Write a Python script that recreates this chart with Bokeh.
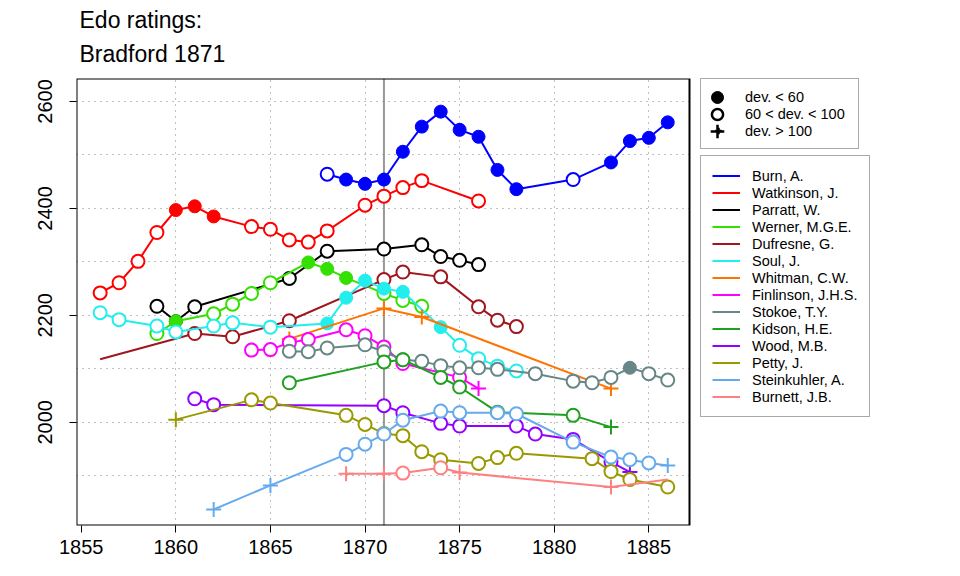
from bokeh.plotting import figure
from bokeh.models import (Range1d, FixedTicker, Span, Legend, LegendItem, Title,
                          ColumnDataSource, BoxAnnotation)
from bokeh.embed import file_html
from bokeh.resources import INLINE

# ---------------- data ----------------
players = ["Burn, A.", "Watkinson, J.", "Parratt, W.", "Werner, M.G.E.", "Dufresne, G.",
           "Soul, J.", "Whitman, C.W.", "Finlinson, J.H.S.", "Stokoe, T.Y.", "Kidson, H.E.",
           "Wood, M.B.", "Petty, J.", "Steinkuhler, A.", "Burnett, J.B."]
colors = ["#0000ff", "#ff0000", "#000000", "#33e000", "#a0161e", "#22eeee", "#ff7400",
          "#ff00ff", "#678686", "#1fa01f", "#9400ff", "#999900", "#66aaee", "#ff8080"]

# dev codes: f = dev<60 (filled), o = 60<dev<100 (open), p = dev>100 (plus), n = no marker
burn_years = [1868, 1869, 1870, 1871, 1872, 1873, 1874, 1875, 1876, 1877, 1878, 1881, 1883, 1884, 1885, 1886]
burn_ratings = [2464, 2454, 2446, 2454, 2506, 2553, 2581, 2547, 2534, 2472, 2436, 2454, 2486, 2526, 2532, 2561]
burn_dev = ["o", "f", "f", "f", "f", "f", "f", "f", "f", "f", "f", "o", "f", "f", "f", "f"]

watkinson_years = [1856, 1857, 1858, 1859, 1860, 1861, 1862, 1864, 1865, 1866, 1867, 1868, 1870, 1871, 1872, 1873, 1876]
watkinson_ratings = [2242, 2261, 2301, 2355, 2397, 2404, 2385, 2366, 2361, 2341, 2337, 2358, 2406, 2423, 2439, 2452, 2414]
watkinson_dev = ["o", "o", "o", "o", "f", "f", "f", "o", "o", "o", "o", "o", "o", "o", "o", "o", "o"]

parratt_years = [1859, 1860, 1861, 1866, 1868, 1871, 1873, 1874, 1875, 1876]
parratt_ratings = [2217, 2189, 2216, 2269, 2320, 2324, 2332, 2310, 2303, 2295]
parratt_dev = ["o", "f", "o", "o", "o", "o", "o", "o", "o", "o"]

werner_years = [1859, 1860, 1862, 1863, 1864, 1865, 1867, 1868, 1869, 1871, 1872, 1873]
werner_ratings = [2166, 2189, 2203, 2221, 2241, 2261, 2299, 2287, 2270, 2241, 2228, 2217]
werner_dev = ["o", "f", "o", "o", "o", "o", "f", "f", "f", "o", "o", "o"]

dufresne_years = [1856, 1861, 1863, 1866, 1871, 1872, 1874, 1876, 1877, 1878]
dufresne_ratings = [2118, 2166, 2160, 2190, 2267, 2281, 2272, 2216, 2191, 2179]
dufresne_dev = ["n", "o", "o", "o", "o", "o", "o", "o", "o", "o"]

soul_years = [1856, 1857, 1859, 1860, 1862, 1863, 1865, 1868, 1869, 1870, 1871, 1872, 1874, 1875, 1876, 1877, 1878]
soul_ratings = [2205, 2192, 2180, 2169, 2180, 2186, 2178, 2185, 2233, 2265, 2250, 2244, 2178, 2144, 2119, 2105, 2096]
soul_dev = ["o", "o", "o", "o", "o", "o", "o", "f", "f", "f", "f", "f", "f", "o", "o", "o", "o"]

whitman_years = [1866, 1871, 1873, 1883]
whitman_ratings = [2156, 2213, 2197, 2063]
whitman_dev = ["p", "p", "p", "p"]

finlinson_years = [1864, 1865, 1866, 1867, 1869, 1870, 1871, 1872, 1875, 1876]
finlinson_ratings = [2135, 2136, 2149, 2155, 2173, 2162, 2141, 2110, 2084, 2063]
finlinson_dev = ["o", "o", "o", "o", "o", "o", "o", "o", "o", "p"]

stokoe_years = [1866, 1867, 1868, 1870, 1871, 1872, 1873, 1874, 1875, 1876, 1877, 1879, 1881, 1882, 1883, 1884, 1885, 1886]
stokoe_ratings = [2133, 2132, 2139, 2145, 2132, 2117, 2114, 2106, 2102, 2102, 2099, 2091, 2077, 2074, 2084, 2102, 2091, 2079]
stokoe_dev = ["o", "o", "o", "o", "o", "o", "o", "o", "o", "o", "o", "o", "o", "o", "o", "f", "o", "o"]

kidson_years = [1866, 1871, 1872, 1874, 1875, 1877, 1881, 1883]
kidson_ratings = [2074, 2113, 2117, 2084, 2066, 2019, 2013, 1991]
kidson_dev = ["o", "o", "o", "o", "o", "o", "o", "p"]

wood_years = [1861, 1862, 1871, 1872, 1874, 1875, 1878, 1879, 1881, 1883, 1884]
wood_ratings = [2044, 2033, 2031, 2018, 1998, 1993, 1993, 1978, 1968, 1926, 1907]
wood_dev = ["o", "o", "o", "o", "o", "o", "o", "o", "o", "o", "p"]

petty_years = [1860, 1864, 1865, 1869, 1870, 1871, 1872, 1873, 1874, 1876, 1877, 1878, 1882, 1883, 1884, 1886]
petty_ratings = [2005, 2042, 2036, 2013, 1996, 1979, 1975, 1945, 1930, 1923, 1934, 1942, 1932, 1908, 1893, 1879]
petty_dev = ["p", "o", "o", "o", "o", "o", "o", "o", "o", "o", "o", "o", "o", "o", "o", "o"]

steinkuhler_years = [1862, 1865, 1869, 1870, 1871, 1872, 1874, 1875, 1877, 1878, 1881, 1883, 1884, 1885, 1886]
steinkuhler_ratings = [1837, 1882, 1940, 1959, 1978, 2004, 2021, 2018, 2018, 2016, 1963, 1935, 1930, 1924, 1919]
steinkuhler_dev = ["p", "p", "o", "o", "o", "o", "o", "o", "o", "o", "o", "o", "o", "o", "p"]

burnett_years = [1869, 1871, 1872, 1874, 1875, 1883, 1886]
burnett_ratings = [1904, 1904, 1905, 1915, 1906, 1879, 1893]
burnett_dev = ["p", "p", "o", "o", "p", "p", "n"]

series_years = [burn_years, watkinson_years, parratt_years, werner_years, dufresne_years,
                soul_years, whitman_years, finlinson_years, stokoe_years, kidson_years,
                wood_years, petty_years, steinkuhler_years, burnett_years]
series_ratings = [burn_ratings, watkinson_ratings, parratt_ratings, werner_ratings, dufresne_ratings,
                  soul_ratings, whitman_ratings, finlinson_ratings, stokoe_ratings, kidson_ratings,
                  wood_ratings, petty_ratings, steinkuhler_ratings, burnett_ratings]
series_dev = [burn_dev, watkinson_dev, parratt_dev, werner_dev, dufresne_dev,
              soul_dev, whitman_dev, finlinson_dev, stokoe_dev, kidson_dev,
              wood_dev, petty_dev, steinkuhler_dev, burnett_dev]

x_ticks = [1855, 1860, 1865, 1870, 1875, 1880, 1885]
x_grid = [1860, 1865, 1870, 1875, 1880, 1885]
y_ticks = [2000, 2200, 2400, 2600]
y_grid = [1900, 2000, 2100, 2200, 2300, 2400, 2500, 2600]
event_year = 1871
dev_labels = ["dev. < 60", "60 < dev. < 100", "dev. > 100"]

FONT = "Liberation Sans"

# plotting-area limits (the framed box) and the extended frame that also holds the legends
X0, X1 = 1854.75, 1887.15
Y0, Y1 = 1807, 2643
PX_PER_YEAR = 613 / (X1 - X0)
FRAME_W = 794
X_EXT = X0 + FRAME_W / PX_PER_YEAR

p = figure(frame_width=FRAME_W, frame_height=447, output_backend="svg", toolbar_location=None,
           x_range=Range1d(X0, X_EXT), y_range=Range1d(Y0, Y1),
           min_border_left=76, min_border_right=80, min_border_top=78, min_border_bottom=45)
p.title = None
p.outline_line_color = None
p.background_fill_color = "white"
p.border_fill_color = "white"

# axes
for ax in (p.xaxis[0], p.yaxis[0]):
    ax.axis_line_color = None
    ax.major_tick_line_color = "black"
    ax.major_tick_line_width = 1
    ax.major_tick_out = 7
    ax.major_tick_in = 0
    ax.minor_tick_line_color = None
    ax.major_label_text_font = FONT
    ax.major_label_text_font_size = "20px"
    ax.major_label_text_color = "black"
p.xaxis.ticker = FixedTicker(ticks=x_ticks)
p.yaxis.ticker = FixedTicker(ticks=y_ticks)
p.xaxis.major_label_standoff = 7
p.yaxis.major_label_standoff = 17
p.yaxis.major_label_orientation = "vertical"

p.xgrid.ticker = FixedTicker(ticks=x_grid)
p.ygrid.ticker = FixedTicker(ticks=y_grid)
for g in (p.xgrid[0], p.ygrid[0]):
    g.grid_line_color = "#808080"
    g.grid_line_dash = "1 5"
    g.grid_line_width = 1

p.add_layout(Span(location=event_year, dimension="height", line_color="#999999",
                  line_width=2, level="underlay"))

line_renderers = []
for name, col, xs, ys, devs in zip(players, colors, series_years, series_ratings, series_dev):
    lr = p.line(xs, ys, line_color=col, line_width=2)
    line_renderers.append(lr)
    f_idx = [i for i, d in enumerate(devs) if d == "f"]
    o_idx = [i for i, d in enumerate(devs) if d == "o"]
    p_idx = [i for i, d in enumerate(devs) if d == "p"]
    if f_idx:
        p.scatter([xs[i] for i in f_idx], [ys[i] for i in f_idx], marker="circle", size=13,
                  fill_color=col, line_color=col, line_width=1)
    if o_idx:
        p.scatter([xs[i] for i in o_idx], [ys[i] for i in o_idx], marker="circle", size=13,
                  fill_color="white", line_color=col, line_width=2)
    if p_idx:
        p.scatter([xs[i] for i in p_idx], [ys[i] for i in p_idx], marker="cross", size=15,
                  line_color=col, line_width=2)

# blank the extended area right of the plotting box, then draw the box itself
p.add_layout(BoxAnnotation(left=X1, fill_color="white", fill_alpha=1, line_color=None,
                           level="annotation"))
p.add_layout(BoxAnnotation(left=X0, right=X1, bottom=Y0, top=Y1, fill_alpha=0,
                           line_color="black", line_width=2, line_alpha=1, level="annotation"))

# legend renderers for deviation markers (a single undrawn NaN point each)
nan = float("nan")
r_f = p.scatter("x", "y", source=ColumnDataSource(dict(x=[nan], y=[nan])), marker="circle",
                fill_color="black", line_color="black")
r_o = p.scatter("x", "y", source=ColumnDataSource(dict(x=[nan], y=[nan])), marker="circle",
                fill_color="white", line_color="black", line_width=2.5)
r_p = p.scatter("x", "y", source=ColumnDataSource(dict(x=[nan], y=[nan])), marker="cross",
                line_color="black", line_width=2.5)
dev_renderers = [r_f, r_o, r_p]

LEG_X = 624          # legend boxes: left edge, px from the frame's left side
LEG1_BOTTOM = 376    # px from the frame's bottom
LEG2_BOTTOM = 108

leg1 = Legend(items=[LegendItem(label=l, renderers=[r]) for l, r in zip(dev_labels, dev_renderers)],
              location=(LEG_X, LEG1_BOTTOM))
leg2 = Legend(items=[LegendItem(label=n, renderers=[r]) for n, r in zip(players, line_renderers)],
              location=(LEG_X, LEG2_BOTTOM))
for lg in (leg1, leg2):
    lg.label_text_font = FONT
    lg.label_text_font_size = "14.5px"
    lg.label_text_color = "black"
    lg.border_line_color = "#555555"
    lg.border_line_width = 1
    lg.background_fill_alpha = 1
    lg.margin = 0
    lg.spacing = 0
    lg.label_height = 17
    lg.glyph_height = 17
    lg.click_policy = "none"
leg1.glyph_width = 16
leg1.padding = 9
leg1.label_standoff = 19
leg1.label_width = 104
leg2.glyph_width = 28
leg2.padding = 11
leg2.label_standoff = 12
leg2.label_width = 100
p.add_layout(leg1, "center")
p.add_layout(leg2, "center")

# larger key markers laid over the small ones (legend marker size = 0.4 * glyph box)
key_boxes = [30, 28, 34]
for k, (r, box) in enumerate(zip(dev_renderers, key_boxes)):
    cx = LEG_X + 9 + 8                     # glyph centre, frame px
    cy = LEG1_BOTTOM + 70 - 9 - 8.5 - 17 * k
    ov = Legend(items=[LegendItem(label=" ", renderers=[r])],
                location=(cx - box / 2, cy - box / 2),
                glyph_width=box, glyph_height=box, label_height=box, label_width=0,
                label_standoff=0, padding=0, margin=0, spacing=0,
                border_line_color=None, background_fill_alpha=0, click_policy="none")
    p.add_layout(ov, "center")

t2 = Title(text="Bradford 1871", text_font=FONT, text_font_size="23px", text_color="black",
           text_font_style="normal", align="left", offset=3, standoff=23, text_line_height=0.9)
t1 = Title(text="Edo ratings:", text_font=FONT, text_font_size="23px", text_color="black",
           text_font_style="normal", align="left", offset=3, standoff=-10, text_line_height=0.9)
p.add_layout(t2, "above")
p.add_layout(t1, "above")

open("out.html", "w").write(file_html(p, INLINE))
